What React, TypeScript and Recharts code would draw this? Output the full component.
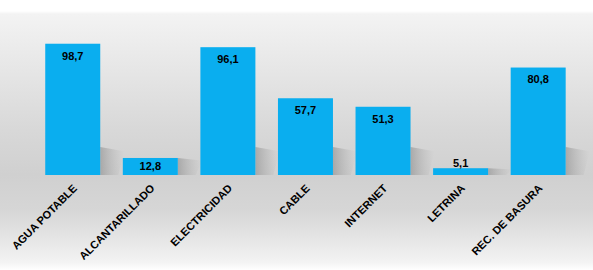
import { Bar, BarChart, LabelList, XAxis, YAxis } from "recharts";

const categories = [
  "AGUA POTABLE",
  "ALCANTARILLADO",
  "ELECTRICIDAD",
  "CABLE",
  "INTERNET",
  "LETRINA",
  "REC. DE BASURA",
];
const values = [98.7, 12.8, 96.1, 57.7, 51.3, 5.1, 80.8];

const data = categories.map((name, i) => ({ name, value: values[i] }));

const fmt = (v: number) => v.toFixed(1).replace(".", ",");

function ShadowBar(props: any) {
  const { x, y, width, height, fill, index } = props;
  const base = y + height;
  const sh = Math.min(height, 28);
  const id = `shd${index}`;
  return (
    <g>
      <defs>
        <linearGradient id={id} x1="0" y1="0" x2="1" y2="0">
          <stop offset="0%" stopColor="#6a6a6a" stopOpacity={0.4} />
          <stop offset="100%" stopColor="#9a9a9a" stopOpacity={0} />
        </linearGradient>
      </defs>
      <polygon
        points={`${x + width},${base} ${x + width},${base - sh} ${x + width + 24},${base - sh * 0.85} ${x + width + 18},${base}`}
        fill={`url(#${id})`}
      />
      <rect x={x} y={y} width={width} height={height} fill={fill} />
    </g>
  );
}

function ValueLabel(props: any) {
  const { x, y, width, height, value } = props;
  const cx = x + width / 2;
  let cy: number;
  if (height < 12) cy = y - 5;
  else cy = Math.min(y + 12, y + height / 2);
  return (
    <text
      x={cx}
      y={cy}
      dy="0.36em"
      textAnchor="middle"
      fontFamily="Liberation Sans, Arial, sans-serif"
      fontWeight="bold"
      fontSize={11}
      fill="#000"
    >
      {fmt(Number(value))}
    </text>
  );
}

function AxisTick(props: any) {
  const { x, payload } = props;
  return (
    <g transform={`translate(${x + 5},${189})`}>
      <text
        textAnchor="end"
        transform="rotate(-45)"
        fontFamily="Liberation Sans, Arial, sans-serif"
        fontWeight="bold"
        fontSize={11}
        fill="#000"
      >
        {payload.value}
      </text>
    </g>
  );
}

export default function App() {
  return (
    <div
      style={{
        position: "fixed",
        left: 0,
        top: 0,
        width: 593,
        height: 270,
        background:
          "linear-gradient(to bottom, #ffffff 0px, #ffffff 11px, #f3f3f3 14px, #e6e6e6 70px, #d8d8d8 130px, #d0d0d0 175px, #d6d6d6 210px, #e6e6e6 240px, #f3f3f3 262px, #ffffff 270px)",
      }}
    >
      <BarChart
        width={593}
        height={270}
        data={data}
        margin={{ top: 42, right: 16, bottom: 0, left: 34 }}
        barCategoryGap="14.5%"
      >
        <XAxis
          dataKey="name"
          axisLine={false}
          tickLine={false}
          interval={0}
          height={95}
          tick={<AxisTick />}
        />
        <YAxis hide domain={[0, 100]} />
        <Bar
          dataKey="value"
          fill="#0AAEEF"
          isAnimationActive={false}
          shape={<ShadowBar />}
        >
          <LabelList dataKey="value" content={<ValueLabel />} />
        </Bar>
      </BarChart>
    </div>
  );
}
